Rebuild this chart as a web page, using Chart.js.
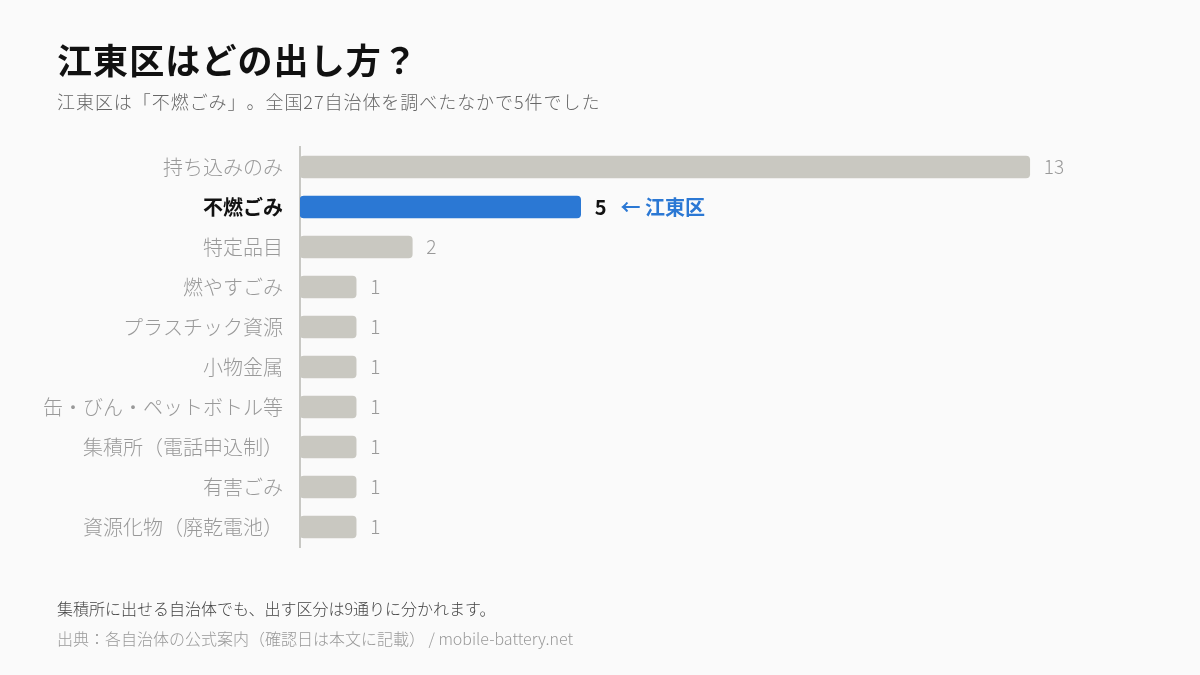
<!DOCTYPE html>
<html><head><meta charset="utf-8">
<script src="https://cdn.jsdelivr.net/npm/chart.js@4/dist/chart.umd.min.js"></script>
<style>
html,body{margin:0;padding:0;background:#fafafa;}
body{width:1200px;height:675px;position:relative;overflow:hidden;font-family:"Noto Sans CJK JP","Noto Sans",sans-serif;text-spacing-trim:space-all;}
#c{position:absolute;left:0;top:0;}
.t{position:absolute;white-space:nowrap;}
#title{left:57px;top:36px;font-size:35px;font-weight:700;color:#111;line-height:46px;letter-spacing:1.1px;}
#sub{left:57px;top:89px;font-size:18px;font-weight:300;color:#666;line-height:24px;letter-spacing:0.95px;}
#note{left:57px;top:597px;font-size:16px;font-weight:300;color:#444;line-height:22px;}
#src{left:57px;top:627px;font-size:16px;font-weight:300;color:#999;line-height:22px;}
</style></head>
<body>
<canvas id="c" width="1200" height="675"></canvas>
<div class="t" id="title">江東区はどの出し方？</div>
<div class="t" id="sub">江東区は「不燃ごみ」。全国27自治体を調べたなかで5件でした</div>
<div class="t" id="note">集積所に出せる自治体でも、出す区分は9通りに分かれます。</div>
<div class="t" id="src">出典：各自治体の公式案内（確認日は本文に記載） / mobile-battery.net</div>
<script>
const categories = ["持ち込みのみ","不燃ごみ","特定品目","燃やすごみ","プラスチック資源","小物金属","缶・びん・ペットボトル等","集積所（電話申込制）","有害ごみ","資源化物（廃乾電池）"];
const counts = [13,5,2,1,1,1,1,1,1,1];
const highlightIndex = 1;
const highlightNote = "← 江東区";

const FONT = '"Noto Sans CJK JP","Noto Sans",sans-serif';
const GRAY = '#c9c8c1';
const BLUE = '#2b78d4';

const valueLabels = {
  id:'valueLabels',
  afterDatasetsDraw(chart){
    const ctx = chart.ctx;
    const meta = chart.getDatasetMeta(0);
    ctx.save();
    ctx.textBaseline = 'middle';
    ctx.textAlign = 'left';
    meta.data.forEach((bar,i)=>{
      const x = bar.x + 14;
      const y = bar.y;
      if(i===highlightIndex){
        ctx.font = '700 20px ' + FONT;
        ctx.fillStyle = '#111';
        ctx.fillText(String(counts[i]), x, y);
        const w = ctx.measureText(String(counts[i])).width;
        ctx.fillStyle = BLUE;
        ctx.fillText(highlightNote, x + w + 14, y);
      } else {
        ctx.font = '300 19px ' + FONT;
        ctx.fillStyle = '#999';
        ctx.fillText(String(counts[i]), x, y);
      }
    });
    ctx.restore();
  }
};

new Chart(document.getElementById('c'), {
  type:'bar',
  data:{
    labels:categories,
    datasets:[{
      data:counts,
      backgroundColor:counts.map((v,i)=> i===highlightIndex?BLUE:GRAY),
      borderRadius:4,
      borderSkipped:false,
      barThickness:22
    }]
  },
  options:{
    indexAxis:'y',
    responsive:false,
    animation:false,
    devicePixelRatio:1,
    layout:{padding:{left:0,top:147,right:58,bottom:128}},
    plugins:{legend:{display:false},tooltip:{enabled:false}},
    scales:{
      x:{min:0,max:15,display:false,grid:{display:false}},
      y:{
        afterFit(scale){scale.width=300;},
        grid:{display:false,drawTicks:false},
        border:{display:true,color:'#c8c8c4',width:2},
        ticks:{
          padding:17,
          font:(c)=>({family:FONT,size:20,weight:c.index===highlightIndex?'700':'300'}),
          color:(c)=> c.index===highlightIndex?'#111':'#999'
        }
      }
    }
  },
  plugins:[valueLabels]
});
</script>
</body></html>
